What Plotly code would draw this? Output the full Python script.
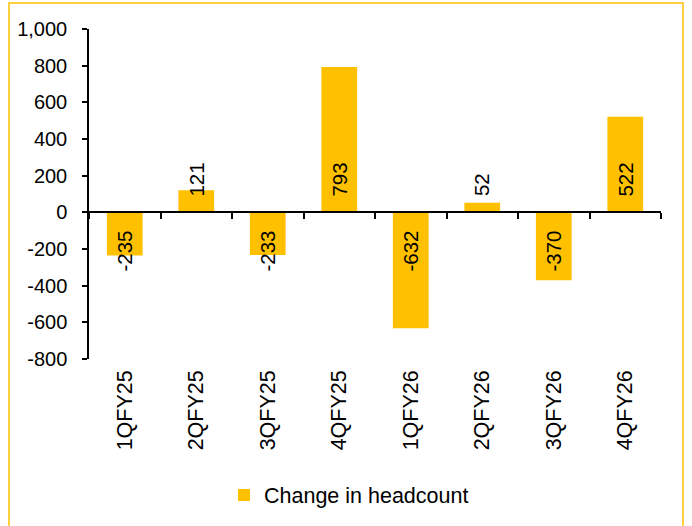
import plotly.graph_objects as go

# Quarterly change in headcount
quarters = ["1QFY25", "2QFY25", "3QFY25", "4QFY25", "1QFY26", "2QFY26", "3QFY26", "4QFY26"]
headcount_change = [-235, 121, -233, 793, -632, 52, -370, 522]
y_ticks = [-800, -600, -400, -200, 0, 200, 400, 600, 800, 1000]
series_name = "Change in headcount"

BAR_COLOR = "#FFC000"
FONT = "Liberation Sans, Arial, sans-serif"
FS = 21.5
FS_Y = 20
FS_LABEL = 20.5

fig = go.Figure()

fig.add_trace(go.Bar(
    x=quarters,
    y=headcount_change,
    name=series_name,
    marker=dict(color=BAR_COLOR, line=dict(width=0)),
    hoverinfo="x+y",
))

# invisible helper trace so the zero-line axis gets drawn
fig.add_trace(go.Scatter(
    x=quarters,
    y=[0] * len(quarters),
    xaxis="x2",
    mode="none",
    showlegend=False,
    hoverinfo="skip",
))

# value labels sitting just inside the base of each bar
annotations = []
for q, v in zip(quarters, headcount_change):
    annotations.append(dict(
        x=q, y=0, xref="x", yref="y",
        text=str(v),
        textangle=-90,
        showarrow=False,
        font=dict(family=FONT, size=FS_LABEL, color="black"),
        yanchor="bottom" if v >= 0 else "top",
        yshift=14 if v >= 0 else -16,
    ))

fig.update_layout(
    width=692,
    height=526,
    margin=dict(l=89, r=31, t=29, b=166),
    paper_bgcolor="white",
    plot_bgcolor="white",
    font=dict(family=FONT, size=FS, color="black"),
    bargap=0.5,
    showlegend=True,
    legend=dict(
        orientation="h",
        x=0.236, xanchor="left",
        y=-0.408, yanchor="middle",
        font=dict(family=FONT, size=FS, color="black"),
        bgcolor="rgba(0,0,0,0)",
    ),
    xaxis=dict(
        type="category",
        range=[-0.5, len(quarters) - 0.5],
        showline=False,
        showgrid=False,
        zeroline=False,
        ticks="",
        tickangle=-90,
        tickfont=dict(family=FONT, size=FS, color="black"),
        ticklabelstandoff=6,
    ),
    xaxis2=dict(
        type="category",
        overlaying="x",
        anchor="free",
        position=(0 - y_ticks[0]) / (y_ticks[-1] - y_ticks[0]),
        side="bottom",
        range=[-0.5, len(quarters) - 0.5],
        showline=True,
        linecolor="black",
        linewidth=1.5,
        showgrid=False,
        zeroline=False,
        ticks="outside",
        tickson="boundaries",
        ticklen=6,
        tickwidth=1.5,
        tickcolor="black",
        showticklabels=False,
    ),
    yaxis=dict(
        range=[y_ticks[0], y_ticks[-1]],
        tickvals=y_ticks,
        ticktext=[f"{v:,}" for v in y_ticks],
        showline=True,
        linecolor="black",
        linewidth=1.5,
        showgrid=False,
        zeroline=False,
        ticks="outside",
        ticklen=5,
        tickwidth=1.5,
        tickcolor="black",
        tickfont=dict(family=FONT, size=FS_Y, color="black"),
        ticklabelstandoff=11,
    ),
    annotations=annotations,
    shapes=[dict(
        type="rect", xref="paper", yref="paper",
        x0=-0.1399, x1=1.0385, y0=-0.53, y1=1.0785,
        line=dict(color="#FFD040", width=2),
        fillcolor="rgba(0,0,0,0)",
        layer="below",
    )],
)

fig.write_html("out.html")
